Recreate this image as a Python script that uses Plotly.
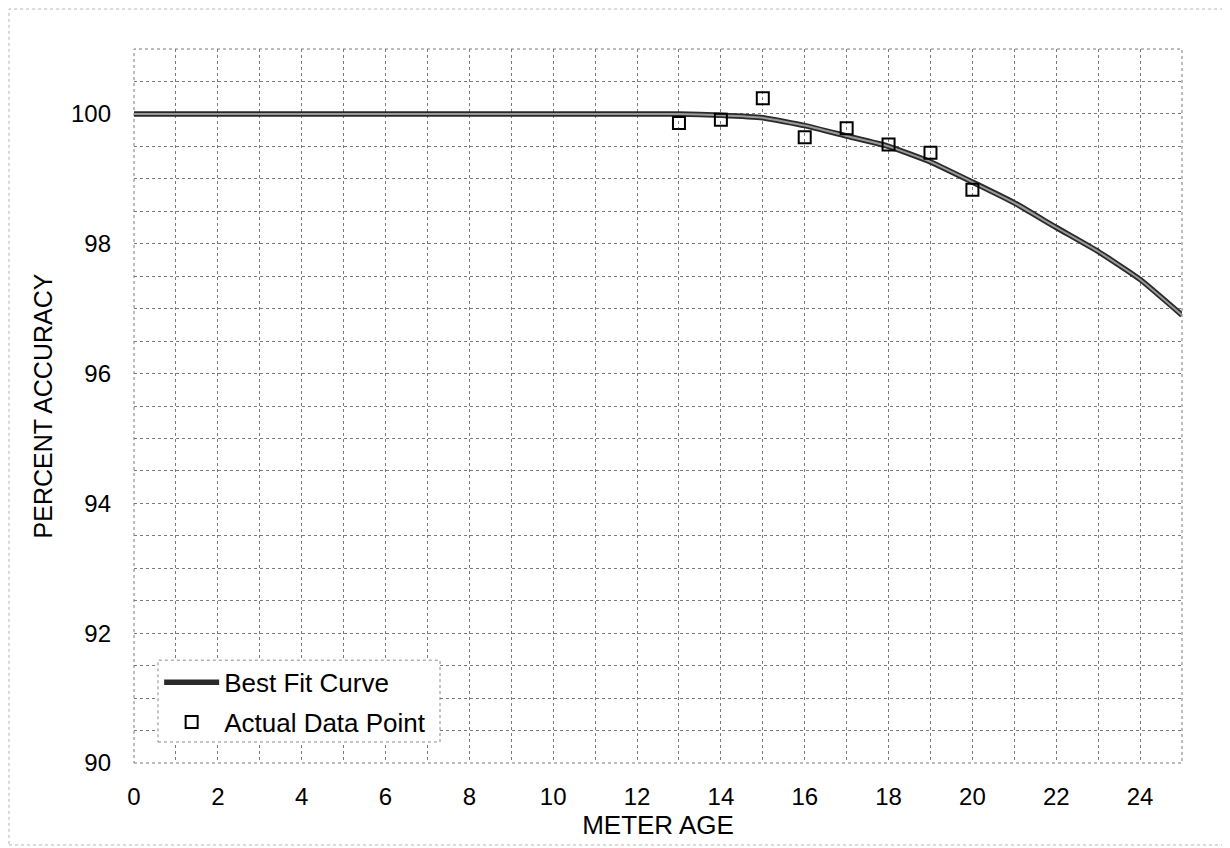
import plotly.graph_objects as go

# Data
curve_x = [0, 1, 2, 3, 4, 5, 6, 7, 8, 9, 10, 11, 12, 13, 14, 15, 16, 17, 18, 19, 20, 21, 22, 23, 24, 25]
curve_y = [100.0, 100.0, 100.0, 100.0, 100.0, 100.0, 100.0, 100.0, 100.0, 100.0, 100.0, 100.0, 100.0,
           100.0, 99.98, 99.94, 99.82, 99.66, 99.5, 99.26, 98.95, 98.63, 98.25, 97.88, 97.45, 96.9]

point_x = [13, 14, 15, 16, 17, 18, 19, 20]
point_y = [99.86, 99.91, 100.24, 99.64, 99.78, 99.53, 99.4, 98.83]

x_ticks = [0, 2, 4, 6, 8, 10, 12, 14, 16, 18, 20, 22, 24]
y_ticks = [90, 92, 94, 96, 98, 100]

FONT = "Liberation Sans, Arial, sans-serif"
GRID = "#7a7a7a"

fig = go.Figure()

# outer dark outline of fitted curve (legend entry)
fig.add_trace(go.Scatter(
    x=curve_x, y=curve_y, mode="lines", name="Best Fit Curve", legendgroup="fit",
    line=dict(color="#2a2a2a", width=5.5, shape="spline", smoothing=0.4),
))
# inner grey core of the fitted curve
fig.add_trace(go.Scatter(
    x=curve_x, y=curve_y, mode="lines", showlegend=False, hoverinfo="skip", legendgroup="fit",
    line=dict(color="#9a9a9a", width=2, shape="spline", smoothing=0.4),
))
fig.add_trace(go.Scatter(
    x=point_x, y=point_y, mode="markers", name="Actual Data Point", legendgroup="pts",
    marker=dict(symbol="square-open", size=12, color="black", line=dict(width=2, color="black")),
))

fig.update_layout(
    width=1222, height=840,
    margin=dict(l=126, r=48, t=41, b=85, autoexpand=False),
    paper_bgcolor="white", plot_bgcolor="white",
    font=dict(family=FONT, size=24, color="black"),
    showlegend=True,
    legend=dict(
        x=0.024, y=0.146, xanchor="left", yanchor="top",
        bgcolor="rgba(0,0,0,0)", borderwidth=0,
        font=dict(family=FONT, size=26, color="black"),
        tracegroupgap=3, itemwidth=55,
    ),
    xaxis=dict(
        range=[0, 25], tickmode="array", tickvals=x_ticks, ticktext=[str(v) for v in x_ticks],
        showgrid=True, gridcolor=GRID, griddash="dot", gridwidth=1,
        minor=dict(dtick=1, showgrid=True, gridcolor=GRID, griddash="dot", gridwidth=1),
        zeroline=False, showline=False, ticks="", automargin=False,
        ticklabelstandoff=17,
        tickfont=dict(family=FONT, size=24),
        title=dict(text="METER AGE", font=dict(family=FONT, size=26), standoff=4),
    ),
    yaxis=dict(
        range=[90, 101], tickmode="array", tickvals=y_ticks, ticktext=[str(v) for v in y_ticks],
        showgrid=True, gridcolor=GRID, griddash="dot", gridwidth=1,
        minor=dict(dtick=0.5, showgrid=True, gridcolor=GRID, griddash="dot", gridwidth=1),
        zeroline=False, showline=False, ticks="", automargin=False,
        ticklabelstandoff=22,
        tickfont=dict(family=FONT, size=24),
        title=dict(text="PERCENT ACCURACY", font=dict(family=FONT, size=25), standoff=11),
    ),
    shapes=[
        dict(type="rect", xref="paper", yref="paper", x0=0, y0=0, x1=1, y1=1,
             line=dict(color=GRID, width=1, dash="dot"), layer="below"),
        dict(type="rect", xref="paper", yref="paper", x0=-0.1193, y0=-0.1148, x1=1.043, y1=1.056,
             line=dict(color="#b5b5b5", width=1, dash="dot"), layer="below"),
        # dotted legend frame with white fill
        dict(type="rect", xref="paper", yref="paper", x0=0.0229, y0=0.0294, x1=0.292, y1=0.144,
             line=dict(color="#8a8a8a", width=1, dash="dot"), fillcolor="white", layer="above"),
    ],
)

fig.write_html("out.html")
